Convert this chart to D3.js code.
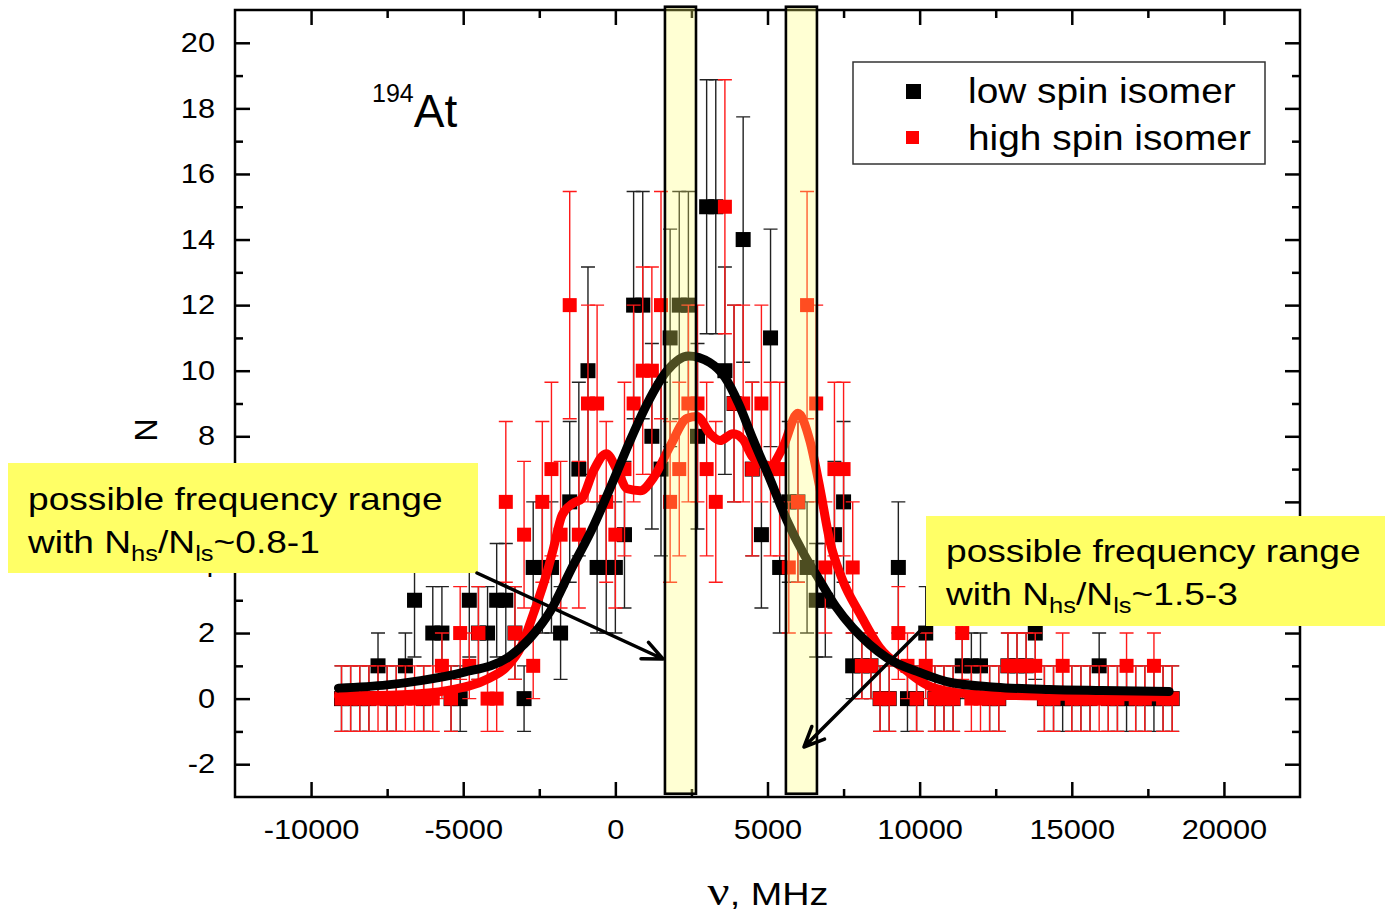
<!DOCTYPE html>
<html>
<head>
<meta charset="utf-8">
<script src="https://cdn.jsdelivr.net/npm/d3@7"></script>
<style>
body { margin: 0; background: #fff; }
text { font-family: "Liberation Sans", Arial, sans-serif; fill: #000; }
</style>
</head>
<body>
<div id="chart"></div>
<script>
// Data
//= ================================
var freq = [
  -9000, -8700, -8400, -8100, -7800, -7500, -7200, -6900, -6600, -6300,
  -6000, -5700, -5400, -5100, -4800, -4500, -4200, -3900, -3600, -3300,
  -3000, -2700, -2400, -2100, -1800, -1500, -1200, -900, -600, -300,
  0, 300, 600, 900, 1200, 1500, 1800, 2100, 2400, 2700,
  3000, 3300, 3600, 3900, 4200, 4500, 4800, 5100, 5400, 5700,
  6000, 6300, 6600, 6900, 7200, 7500, 7800, 8100, 8400, 8700,
  9000, 9300, 9600, 9900, 10200, 10500, 10800, 11100, 11400, 11700,
  12000, 12300, 12600, 12900, 13200, 13500, 13800, 14100, 14400, 14700,
  15000, 15300, 15600, 15900, 16200, 16500, 16800, 17100, 17400, 17700,
  18000, 18300
];

// low spin isomer counts
var lowSpin = [
  0, 0, 0, 0, 1, 0, 0, 1, 3, 0,
  2, 2, 0, 0, 3, 2, 2, 3, 3, 2,
  0, 4, 4, 4, 2, 6, 7, 10, 4, 4,
  4, 5, 12, 12, 8, 7, 11, 12, 12, 8,
  15, 15, 10, 9, 14, 7, 5, 11, 4, 6,
  6, 4, 3, 3, 5, 6, 1, 1, 1, 0,
  0, 4, 0, 0, 2, 0, 0, 0, 1, 1,
  1, 0, 0, 1, 1, 1, 2, 0, 0, 0,
  0, 0, 0, 1, 0, 0, 0, 0, 0, 0,
  0, 0
];

// high spin isomer counts
var highSpin = [
  0, 0, 0, 0, 0, 0, 0, 0, 0, 0,
  0, 1, 0, 2, 1, 2, 0, 0, 6, 2,
  5, 1, 6, 7, 5, 12, 5, 9, 9, 6,
  5, 7, 9, 10, 10, 12, 6, 7, 9, 9,
  7, 6, 15, 9, 9, 7, 9, 7, 7, 4,
  6, 12, 9, 4, 7, 7, 4, 1, 1, 0,
  0, 2, 1, 0, 1, 0, 0, 0, 2, 0,
  0, 0, 0, 1, 1, 1, 1, 0, 0, 1,
  0, 0, 0, 0, 0, 0, 1, 0, 0, 1,
  0, 0
];

// fitted curves [MHz, N]
var lowFit = [
  [-9100, 0.32], [-7500, 0.42], [-6400, 0.55], [-5000, 0.8], [-3540, 1.25],
  [-2800, 1.85], [-2130, 2.68], [-1475, 3.9], [-700, 5.3], [-65, 6.65],
  [500, 7.9], [1050, 9.0], [1700, 10.0], [2400, 10.45], [3100, 10.25],
  [3600, 9.8], [4050, 9.0], [4525, 7.9], [5080, 6.7], [5640, 5.43],
  [6200, 4.4], [6720, 3.6], [7250, 2.8], [7800, 2.16], [8360, 1.65],
  [8920, 1.25], [10000, 0.8], [10980, 0.5], [12500, 0.35], [14260, 0.28],
  [16000, 0.25], [18200, 0.22]
];

var highFit = [
  [-9100, 0.08], [-7000, 0.12], [-5500, 0.25], [-4200, 0.6], [-3540, 1.0],
  [-3115, 1.55], [-2690, 2.6], [-2230, 3.9], [-2030, 4.6], [-1750, 5.6],
  [-1400, 5.95], [-1100, 6.1], [-720, 6.95], [-300, 7.47], [65, 6.95],
  [390, 6.4], [820, 6.34], [1250, 6.73], [1800, 7.7], [2360, 8.55],
  [2690, 8.6], [3110, 8.08], [3440, 7.87], [3870, 8.08], [4200, 7.9],
  [4525, 7.35], [5080, 7.1], [5500, 7.65], [6000, 8.7], [6390, 7.87],
  [6720, 6.43], [7050, 4.8], [7475, 3.6], [8030, 2.6], [8690, 1.55],
  [9570, 0.85], [10000, 0.55], [10430, 0.34], [12000, 0.12], [15000, 0.07],
  [18300, 0.05]
];

// highlighted frequency windows [from, to] in MHz
var bands = [[1630, 2650], [5605, 6625]];

var xMajor = [-10000, -5000, 0, 5000, 10000, 15000, 20000];
var xMinor = [-7500, -2500, 2500, 7500, 12500, 17500];
var yMajor = [-2, 0, 2, 4, 6, 8, 10, 12, 14, 16, 18, 20];
var yMinor = [-1, 1, 3, 5, 7, 9, 11, 13, 15, 17, 19];

// Step 1: Set up the chart
//= ================================
var svgWidth = 1385;
var svgHeight = 914;

var margin = { top: 10, bottom: 117, left: 235, right: 85 };
var width = svgWidth - margin.left - margin.right;
var height = svgHeight - margin.top - margin.bottom;

var svg = d3.select("#chart")
  .append("svg")
  .attr("width", svgWidth)
  .attr("height", svgHeight);

var chartGroup = svg.append("g")
  .attr("transform", `translate(${margin.left}, ${margin.top})`);

// Step 2: Scales
//= ================================
var xScale = d3.scaleLinear().domain([-12500, 22500]).range([0, width]);
var yScale = d3.scaleLinear().domain([-3, 21]).range([height, 0]);

// Step 3: Ticks (all pointing inwards, on all four sides)
//= ================================
function addAxis(axis, transform) {
  var g = chartGroup.append("g").attr("transform", transform).call(axis);
  g.select(".domain").remove();
  g.selectAll("line").attr("stroke", "#000").attr("stroke-width", 2.5);
  return g;
}

var tickFont = 27, tickStretch = 1.14;
var plainNumber = d => String(d);

var bottomAxis = addAxis(d3.axisBottom(xScale).tickValues(xMajor).tickSize(-15).tickPadding(23)
  .tickFormat(plainNumber), `translate(0, ${height})`);
bottomAxis.selectAll("text")
  .style("font-size", tickFont + "px")
  .attr("transform", `scale(${tickStretch},1)`);
addAxis(d3.axisBottom(xScale).tickValues(xMinor).tickSize(-8).tickFormat(""), `translate(0, ${height})`);
addAxis(d3.axisTop(xScale).tickValues(xMajor).tickSize(-15).tickFormat(""), "translate(0,0)");
addAxis(d3.axisTop(xScale).tickValues(xMinor).tickSize(-8).tickFormat(""), "translate(0,0)");

var leftAxis = addAxis(d3.axisLeft(yScale).tickValues(yMajor).tickSize(-15).tickPadding(20 / tickStretch)
  .tickFormat(plainNumber), "translate(0,0)");
leftAxis.selectAll("text")
  .style("font-size", tickFont + "px")
  .attr("transform", `scale(${tickStretch},1)`);
addAxis(d3.axisLeft(yScale).tickValues(yMinor).tickSize(-8).tickFormat(""), "translate(0,0)");
addAxis(d3.axisRight(yScale).tickValues(yMajor).tickSize(-15).tickFormat(""), `translate(${width},0)`);
addAxis(d3.axisRight(yScale).tickValues(yMinor).tickSize(-8).tickFormat(""), `translate(${width},0)`);

// Step 4: Data points with sqrt(N) error bars
//= ================================
function drawSeries(counts, color, barColor, size) {
  var pts = freq.map(function(f, i) {
    var n = counts[i];
    return { f: f, n: n, e: n > 0 ? Math.sqrt(n) : 1 };
  });
  var g = chartGroup.append("g");
  g.selectAll("path")
    .data(pts)
    .enter()
    .append("path")
    .attr("d", function(d) {
      var cx = xScale(d.f), lo = yScale(d.n - d.e), hi = yScale(d.n + d.e);
      return `M${cx},${lo}V${hi}M${cx - 7},${hi}h14M${cx - 7},${lo}h14`;
    })
    .attr("fill", "none")
    .attr("stroke", barColor)
    .attr("stroke-width", 1.4);
  g.selectAll("rect")
    .data(pts)
    .enter()
    .append("rect")
    .attr("x", d => xScale(d.f) - size / 2)
    .attr("y", d => yScale(d.n) - size / 2)
    .attr("width", size)
    .attr("height", size)
    .attr("fill", color);
}

drawSeries(lowSpin, "#000", "#222", 15);
drawSeries(highSpin, "#ff0000", "#ff1a1a", 14);

// Step 5: Fit curves
//= ================================
var fitLine = d3.line()
  .x(d => xScale(d[0]))
  .y(d => yScale(d[1]))
  .curve(d3.curveMonotoneX);

chartGroup.append("path")
  .datum(highFit)
  .attr("d", fitLine)
  .attr("fill", "none")
  .attr("stroke", "#ff0000")
  .attr("stroke-width", 9)
  .attr("stroke-linecap", "round");

chartGroup.append("path")
  .datum(lowFit)
  .attr("d", fitLine)
  .attr("fill", "none")
  .attr("stroke", "#000")
  .attr("stroke-width", 9)
  .attr("stroke-linecap", "round");

// frame
chartGroup.append("rect")
  .attr("width", width)
  .attr("height", height)
  .attr("fill", "none")
  .attr("stroke", "#000")
  .attr("stroke-width", 2.5);

// Step 6: Highlighted windows
//= ================================
chartGroup.selectAll(".band")
  .data(bands)
  .enter()
  .append("rect")
  .attr("class", "band")
  .attr("x", d => xScale(d[0]))
  .attr("y", yScale(21.1))
  .attr("width", d => xScale(d[1]) - xScale(d[0]))
  .attr("height", yScale(-2.9) - yScale(21.1))
  .attr("fill", "#ffff6e")
  .attr("fill-opacity", 0.3)
  .attr("stroke", "#000")
  .attr("stroke-width", 2.6);

// Step 7: Labels
//= ================================
svg.append("text")
  .attr("transform", "translate(157, 430) rotate(-90)")
  .attr("text-anchor", "middle")
  .style("font-size", "32px")
  .text("N");

var xLabel = svg.append("text")
  .attr("transform", "translate(768, 905) scale(1.22,1)")
  .attr("text-anchor", "middle")
  .style("font-size", "31px");
xLabel.append("tspan").style("font-family", "'Liberation Serif', serif").style("font-size", "40px").text("\u03bd");
xLabel.append("tspan").text(", MHz");

var isotope = svg.append("text").attr("x", 372).attr("y", 127);
isotope.append("tspan").attr("dy", -25).style("font-size", "25px").text("194");
isotope.append("tspan").attr("dy", 25).style("font-size", "46px").text("At");

// legend
var legend = svg.append("g");
legend.append("rect")
  .attr("x", 853).attr("y", 62).attr("width", 412).attr("height", 102)
  .attr("fill", "#fff").attr("stroke", "#333").attr("stroke-width", 1.5);
legend.append("rect").attr("x", 906).attr("y", 84).attr("width", 15).attr("height", 15).attr("fill", "#000");
legend.append("rect").attr("x", 906).attr("y", 131).attr("width", 13).attr("height", 13).attr("fill", "#ff0000");
legend.append("text").attr("transform", "translate(968, 103) scale(1.11,1)").style("font-size", "35px").text("low spin isomer");
legend.append("text").attr("transform", "translate(968, 150) scale(1.11,1)").style("font-size", "35px").text("high spin isomer");

// Step 8: Annotation boxes and arrows
//= ================================
function note(bx, by, bw, bh, tx, ty, ratio) {
  svg.append("rect")
    .attr("x", bx).attr("y", by).attr("width", bw).attr("height", bh)
    .attr("fill", "#ffff66");
  svg.append("text")
    .attr("transform", `translate(${tx}, ${ty}) scale(1.16,1)`)
    .style("font-size", "32px")
    .text("possible frequency range");
  var t = svg.append("text")
    .attr("transform", `translate(${tx}, ${ty + 43}) scale(1.16,1)`)
    .style("font-size", "32px");
  t.append("tspan").text("with N");
  t.append("tspan").attr("dy", 8).style("font-size", "22px").text("hs");
  t.append("tspan").attr("dy", -8).text("/N");
  t.append("tspan").attr("dy", 8).style("font-size", "22px").text("ls");
  t.append("tspan").attr("dy", -8).text(ratio);
}

note(8, 463, 470, 110, 28, 510, "~0.8-1");
note(926, 516, 459, 110, 946, 562, "~1.5-3");

function arrow(x1, y1, x2, y2) {
  var a = Math.atan2(y2 - y1, x2 - x1), len = 22, spread = 0.42;
  var p1 = [x2 - len * Math.cos(a - spread), y2 - len * Math.sin(a - spread)];
  var p2 = [x2 - len * Math.cos(a + spread), y2 - len * Math.sin(a + spread)];
  svg.append("path")
    .attr("d", `M${x1},${y1}L${x2},${y2}M${p1[0]},${p1[1]}L${x2},${y2}L${p2[0]},${p2[1]}`)
    .attr("fill", "none")
    .attr("stroke", "#000")
    .attr("stroke-width", 3.5)
    .attr("stroke-linecap", "round")
    .attr("stroke-linejoin", "round");
}

arrow(477, 573, 663, 659);
arrow(923, 628, 804, 747);
</script>
</body>
</html>
